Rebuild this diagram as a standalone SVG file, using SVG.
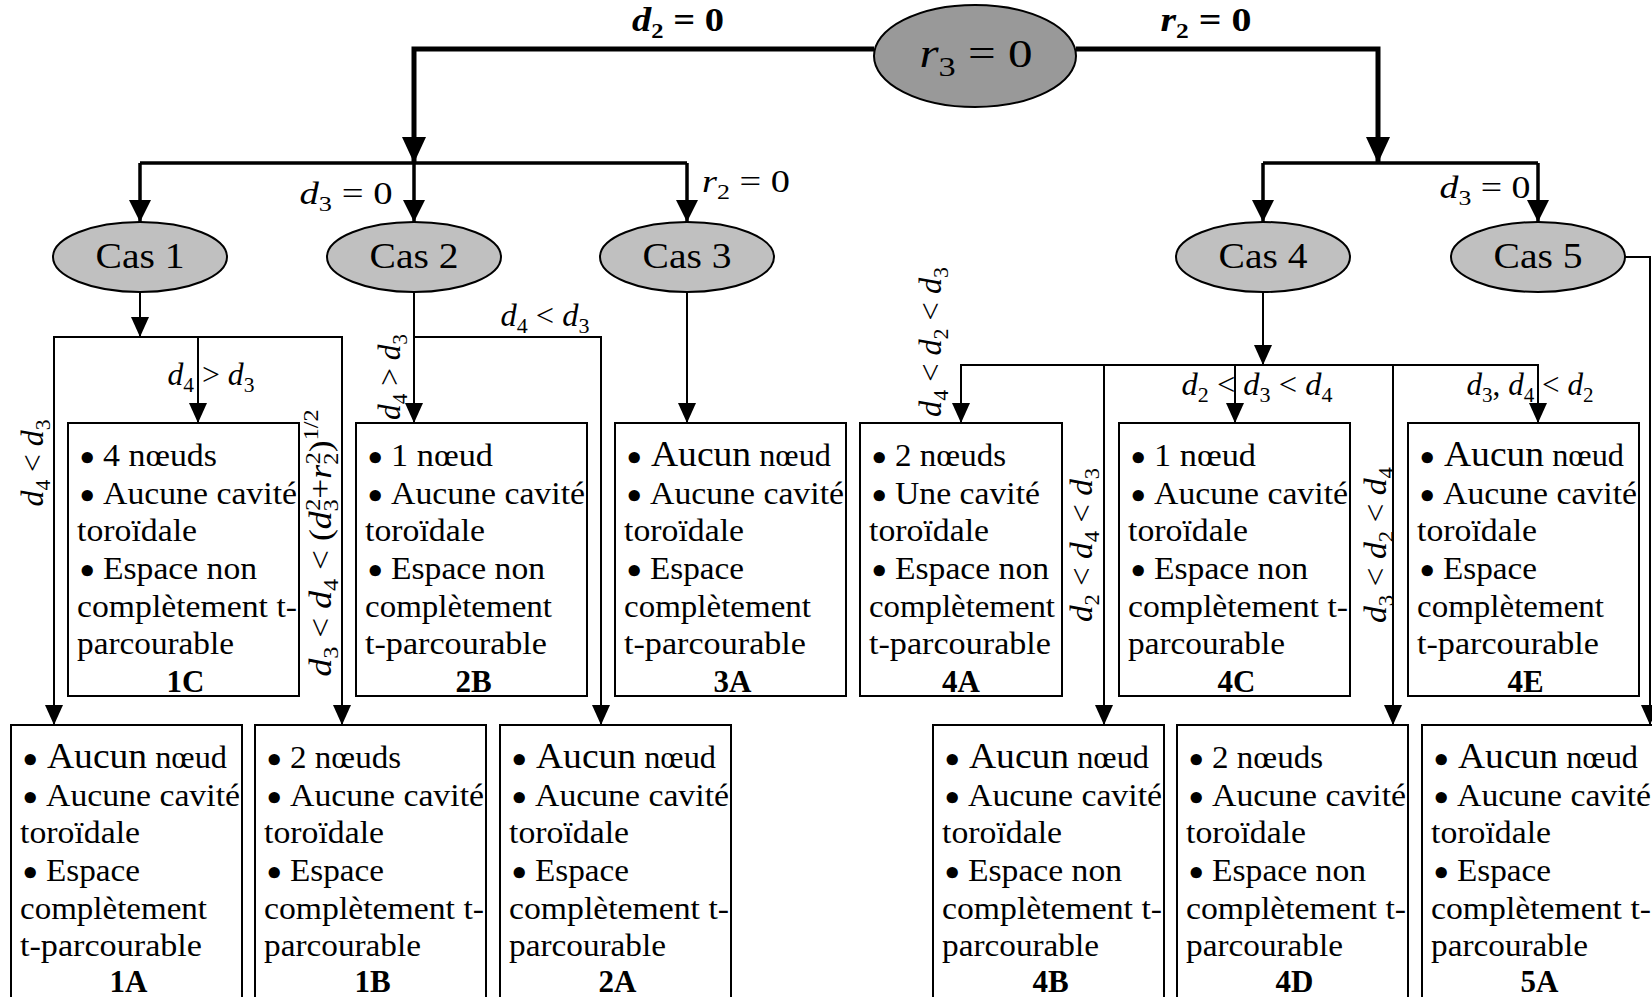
<svg xmlns="http://www.w3.org/2000/svg" width="1652" height="997" viewBox="0 0 1652 997">
<style>
text{font-family:"Liberation Serif","Times New Roman",serif;fill:#000}
.t{font-size:31px}
.au{font-size:36px}
text.bu{font-family:"DejaVu Sans",sans-serif;font-size:32px;font-weight:bold}
.lb{font-size:31px;font-weight:bold;text-anchor:middle}
.m{font-size:31px;text-anchor:middle}
.mb{font-size:33px;font-weight:bold;text-anchor:middle}
.i{font-style:italic}
.s{font-size:21px}
.cas{font-size:36px;text-anchor:middle}
.box{fill:#fff;stroke:#000;stroke-width:2}
.e1{fill:#999;stroke:#000;stroke-width:2}
.e2{fill:#c0c0c0;stroke:#000;stroke-width:2}
.c0{fill:none;stroke:#000;stroke-width:5}
.c1{fill:none;stroke:#000;stroke-width:3.5}
.c2{fill:none;stroke:#000;stroke-width:2}
</style>
<defs>
<marker id="a1" markerUnits="userSpaceOnUse" markerWidth="26" markerHeight="24" refX="26" refY="12" orient="auto" viewBox="0 0 26 24"><path d="M0,0 L26,12 L0,24 z" fill="#000"/></marker>
<marker id="a2" markerUnits="userSpaceOnUse" markerWidth="22" markerHeight="22" refX="22" refY="11" orient="auto" viewBox="0 0 22 22"><path d="M0,0 L22,11 L0,22 z" fill="#000"/></marker>
<marker id="a3" markerUnits="userSpaceOnUse" markerWidth="20" markerHeight="18" refX="20" refY="9" orient="auto" viewBox="0 0 20 18"><path d="M0,0 L20,9 L0,18 z" fill="#000"/></marker>
</defs>
<rect width="1652" height="997" fill="#fff"/>

<g id="connectors">
<path class="c0" d="M874 49 H414 V163" marker-end="url(#a1)"/>
<path class="c0" d="M1076 49 H1378 V163" marker-end="url(#a1)"/>
<path class="c1" d="M140 163 H687"/>
<path class="c1" d="M140 163 V222" marker-end="url(#a2)"/>
<path class="c1" d="M414 160 V222" marker-end="url(#a2)"/>
<path class="c1" d="M687 163 V222" marker-end="url(#a2)"/>
<path class="c1" d="M1263 163 H1538"/>
<path class="c1" d="M1263 163 V222" marker-end="url(#a2)"/>
<path class="c1" d="M1538 163 V222" marker-end="url(#a2)"/>
<path class="c2" d="M140 292 V337" marker-end="url(#a3)"/>
<path class="c2" d="M198 337 H54 V725" marker-end="url(#a3)"/>
<path class="c2" d="M198 337 H342 V725" marker-end="url(#a3)"/>
<path class="c2" d="M198 337 V423" marker-end="url(#a3)"/>
<path class="c2" d="M414 292 V423" marker-end="url(#a3)"/>
<path class="c2" d="M414 337 H601 V725" marker-end="url(#a3)"/>
<path class="c2" d="M687 292 V423" marker-end="url(#a3)"/>
<path class="c2" d="M1263 292 V365" marker-end="url(#a3)"/>
<path class="c2" d="M1263 365 H961 V423" marker-end="url(#a3)"/>
<path class="c2" d="M1104 365 V725" marker-end="url(#a3)"/>
<path class="c2" d="M1235 365 V423" marker-end="url(#a3)"/>
<path class="c2" d="M1263 365 H1538 V423" marker-end="url(#a3)"/>
<path class="c2" d="M1393 365 V725" marker-end="url(#a3)"/>
<path class="c2" d="M1625 257 H1650 V725" marker-end="url(#a3)"/>
</g>

<g id="labels">
<text class="mb" x="678" y="31" textLength="92" lengthAdjust="spacingAndGlyphs"><tspan class="i">d</tspan><tspan class="s" dy="7">2</tspan><tspan dy="-7"> = 0</tspan></text>
<text class="mb" x="1206" y="31" textLength="91" lengthAdjust="spacingAndGlyphs"><tspan class="i">r</tspan><tspan class="s" dy="7">2</tspan><tspan dy="-7"> = 0</tspan></text>
<text class="m" x="346" y="204" textLength="93" lengthAdjust="spacingAndGlyphs"><tspan class="i">d</tspan><tspan class="s" dy="7">3</tspan><tspan dy="-7"> = 0</tspan></text>
<text class="m" x="746" y="192" textLength="88" lengthAdjust="spacingAndGlyphs"><tspan class="i">r</tspan><tspan class="s" dy="7">2</tspan><tspan dy="-7"> = 0</tspan></text>
<text class="m" x="1485" y="198" textLength="91" lengthAdjust="spacingAndGlyphs"><tspan class="i">d</tspan><tspan class="s" dy="7">3</tspan><tspan dy="-7"> = 0</tspan></text>
<text class="m" x="211" y="385" textLength="87" lengthAdjust="spacingAndGlyphs"><tspan class="i">d</tspan><tspan class="s" dy="7">4</tspan><tspan dy="-7"> &gt; </tspan><tspan class="i">d</tspan><tspan class="s" dy="7">3</tspan></text>
<text class="m" x="545" y="326" textLength="89" lengthAdjust="spacingAndGlyphs"><tspan class="i">d</tspan><tspan class="s" dy="7">4</tspan><tspan dy="-7"> &lt; </tspan><tspan class="i">d</tspan><tspan class="s" dy="7">3</tspan></text>
<text class="m" x="1257" y="395" textLength="151" lengthAdjust="spacingAndGlyphs"><tspan class="i">d</tspan><tspan class="s" dy="7">2</tspan><tspan dy="-7"> &lt; </tspan><tspan class="i">d</tspan><tspan class="s" dy="7">3</tspan><tspan dy="-7"> &lt; </tspan><tspan class="i">d</tspan><tspan class="s" dy="7">4</tspan></text>
<text class="m" x="1530" y="395" textLength="127" lengthAdjust="spacingAndGlyphs"><tspan class="i">d</tspan><tspan class="s" dy="7">3</tspan><tspan dy="-7">, </tspan><tspan class="i">d</tspan><tspan class="s" dy="7">4</tspan><tspan dy="-7"> &lt; </tspan><tspan class="i">d</tspan><tspan class="s" dy="7">2</tspan></text>
<text class="m" transform="translate(43,463) rotate(-90)" textLength="87" lengthAdjust="spacingAndGlyphs"><tspan class="i">d</tspan><tspan class="s" dy="7">4</tspan><tspan dy="-7"> &lt; </tspan><tspan class="i">d</tspan><tspan class="s" dy="7">3</tspan></text>
<text class="m" transform="translate(331,543) rotate(-90)" textLength="267" lengthAdjust="spacingAndGlyphs"><tspan class="i">d</tspan><tspan class="s" dy="7">3</tspan><tspan dy="-7"> &lt; </tspan><tspan class="i">d</tspan><tspan class="s" dy="7">4</tspan><tspan dy="-7"> &lt; (</tspan><tspan class="i">d</tspan><tspan class="s" dy="7">3</tspan><tspan class="s" dx="-10" dy="-18">2</tspan><tspan dy="11">+</tspan><tspan class="i">r</tspan><tspan class="s" dy="7">2</tspan><tspan class="s" dx="-10" dy="-18">2</tspan><tspan dy="11">)</tspan><tspan class="s" dy="-13">1/2</tspan></text>
<text class="m" transform="translate(400,377) rotate(-90)" textLength="86" lengthAdjust="spacingAndGlyphs"><tspan class="i">d</tspan><tspan class="s" dy="7">4</tspan><tspan dy="-7"> &gt; </tspan><tspan class="i">d</tspan><tspan class="s" dy="7">3</tspan></text>
<text class="m" transform="translate(941,342) rotate(-90)" textLength="150" lengthAdjust="spacingAndGlyphs"><tspan class="i">d</tspan><tspan class="s" dy="7">4</tspan><tspan dy="-7"> &lt; </tspan><tspan class="i">d</tspan><tspan class="s" dy="7">2</tspan><tspan dy="-7"> &lt; </tspan><tspan class="i">d</tspan><tspan class="s" dy="7">3</tspan></text>
<text class="m" transform="translate(1092,545) rotate(-90)" textLength="154" lengthAdjust="spacingAndGlyphs"><tspan class="i">d</tspan><tspan class="s" dy="7">2</tspan><tspan dy="-7"> &lt; </tspan><tspan class="i">d</tspan><tspan class="s" dy="7">4</tspan><tspan dy="-7"> &lt; </tspan><tspan class="i">d</tspan><tspan class="s" dy="7">3</tspan></text>
<text class="m" transform="translate(1386,545) rotate(-90)" textLength="156" lengthAdjust="spacingAndGlyphs"><tspan class="i">d</tspan><tspan class="s" dy="7">3</tspan><tspan dy="-7"> &lt; </tspan><tspan class="i">d</tspan><tspan class="s" dy="7">2</tspan><tspan dy="-7"> &lt; </tspan><tspan class="i">d</tspan><tspan class="s" dy="7">4</tspan></text>
</g>

<g id="root">
<ellipse class="e1" cx="975" cy="56" rx="101" ry="51"/>
<text class="m" x="976" y="67" style="font-size:40px" textLength="113" lengthAdjust="spacingAndGlyphs"><tspan class="i">r</tspan><tspan style="font-size:28px" dy="9">3</tspan><tspan dy="-9"> = 0</tspan></text>
</g>
<g id="cas1"><ellipse class="e2" cx="140" cy="257" rx="87" ry="35"/><text class="cas" x="140" y="268" textLength="89" lengthAdjust="spacingAndGlyphs">Cas 1</text></g>
<g id="cas2"><ellipse class="e2" cx="414" cy="257" rx="87" ry="35"/><text class="cas" x="414" y="268" textLength="89" lengthAdjust="spacingAndGlyphs">Cas 2</text></g>
<g id="cas3"><ellipse class="e2" cx="687" cy="257" rx="87" ry="35"/><text class="cas" x="687" y="268" textLength="89" lengthAdjust="spacingAndGlyphs">Cas 3</text></g>
<g id="cas4"><ellipse class="e2" cx="1263" cy="257" rx="87" ry="35"/><text class="cas" x="1263" y="268" textLength="89" lengthAdjust="spacingAndGlyphs">Cas 4</text></g>
<g id="cas5"><ellipse class="e2" cx="1538" cy="257" rx="87" ry="35"/><text class="cas" x="1538" y="268" textLength="89" lengthAdjust="spacingAndGlyphs">Cas 5</text></g>

<g id="box1C">
<rect class="box" x="68" y="423" width="231" height="273"/>
<text class="bu" x="77" y="470">•</text><text class="t" x="103" y="466" textLength="114" lengthAdjust="spacingAndGlyphs">4 nœuds</text>
<text class="bu" x="77" y="507.5">•</text><text class="t" x="103" y="503.5" textLength="194" lengthAdjust="spacingAndGlyphs">Aucune cavité</text>
<text class="t" x="77" y="541" textLength="120" lengthAdjust="spacingAndGlyphs">toroïdale</text>
<text class="bu" x="77" y="583">•</text><text class="t" x="103" y="579" textLength="154" lengthAdjust="spacingAndGlyphs">Espace non</text>
<text class="t" x="77" y="616.5" textLength="220" lengthAdjust="spacingAndGlyphs">complètement t-</text>
<text class="t" x="77" y="654" textLength="157" lengthAdjust="spacingAndGlyphs">parcourable</text>
<text class="lb" x="185.5" y="692">1C</text>
</g>
<g id="box2B">
<rect class="box" x="356" y="423" width="231" height="273"/>
<text class="bu" x="365" y="470">•</text><text class="t" x="391" y="466" textLength="102" lengthAdjust="spacingAndGlyphs">1 nœud</text>
<text class="bu" x="365" y="507.5">•</text><text class="t" x="391" y="503.5" textLength="194" lengthAdjust="spacingAndGlyphs">Aucune cavité</text>
<text class="t" x="365" y="541" textLength="120" lengthAdjust="spacingAndGlyphs">toroïdale</text>
<text class="bu" x="365" y="583">•</text><text class="t" x="391" y="579" textLength="154" lengthAdjust="spacingAndGlyphs">Espace non</text>
<text class="t" x="365" y="616.5" textLength="187" lengthAdjust="spacingAndGlyphs">complètement</text>
<text class="t" x="365" y="654" textLength="182" lengthAdjust="spacingAndGlyphs">t-parcourable</text>
<text class="lb" x="473.5" y="692">2B</text>
</g>
<g id="box3A">
<rect class="box" x="615" y="423" width="231" height="273"/>
<text class="bu" x="624" y="470">•</text><text class="t" x="651" y="466" textLength="180" lengthAdjust="spacingAndGlyphs"><tspan class="au">Aucun</tspan> nœud</text>
<text class="bu" x="624" y="507.5">•</text><text class="t" x="650" y="503.5" textLength="194" lengthAdjust="spacingAndGlyphs">Aucune cavité</text>
<text class="t" x="624" y="541" textLength="120" lengthAdjust="spacingAndGlyphs">toroïdale</text>
<text class="bu" x="624" y="583">•</text><text class="t" x="650" y="579" textLength="94" lengthAdjust="spacingAndGlyphs">Espace</text>
<text class="t" x="624" y="616.5" textLength="187" lengthAdjust="spacingAndGlyphs">complètement</text>
<text class="t" x="624" y="654" textLength="182" lengthAdjust="spacingAndGlyphs">t-parcourable</text>
<text class="lb" x="732.5" y="692">3A</text>
</g>
<g id="box4A">
<rect class="box" x="860" y="423" width="202" height="273"/>
<text class="bu" x="869" y="470">•</text><text class="t" x="895" y="466" textLength="111" lengthAdjust="spacingAndGlyphs">2 nœuds</text>
<text class="bu" x="869" y="507.5">•</text><text class="t" x="895" y="503.5" textLength="145" lengthAdjust="spacingAndGlyphs">Une cavité</text>
<text class="t" x="869" y="541" textLength="120" lengthAdjust="spacingAndGlyphs">toroïdale</text>
<text class="bu" x="869" y="583">•</text><text class="t" x="895" y="579" textLength="154" lengthAdjust="spacingAndGlyphs">Espace non</text>
<text class="t" x="869" y="616.5" textLength="186" lengthAdjust="spacingAndGlyphs">complètement</text>
<text class="t" x="869" y="654" textLength="182" lengthAdjust="spacingAndGlyphs">t-parcourable</text>
<text class="lb" x="961" y="692">4A</text>
</g>
<g id="box4C">
<rect class="box" x="1119" y="423" width="231" height="273"/>
<text class="bu" x="1128" y="470">•</text><text class="t" x="1154" y="466" textLength="102" lengthAdjust="spacingAndGlyphs">1 nœud</text>
<text class="bu" x="1128" y="507.5">•</text><text class="t" x="1154" y="503.5" textLength="194" lengthAdjust="spacingAndGlyphs">Aucune cavité</text>
<text class="t" x="1128" y="541" textLength="120" lengthAdjust="spacingAndGlyphs">toroïdale</text>
<text class="bu" x="1128" y="583">•</text><text class="t" x="1154" y="579" textLength="154" lengthAdjust="spacingAndGlyphs">Espace non</text>
<text class="t" x="1128" y="616.5" textLength="220" lengthAdjust="spacingAndGlyphs">complètement t-</text>
<text class="t" x="1128" y="654" textLength="157" lengthAdjust="spacingAndGlyphs">parcourable</text>
<text class="lb" x="1236.5" y="692">4C</text>
</g>
<g id="box4E">
<rect class="box" x="1408" y="423" width="231" height="273"/>
<text class="bu" x="1417" y="470">•</text><text class="t" x="1444" y="466" textLength="180" lengthAdjust="spacingAndGlyphs"><tspan class="au">Aucun</tspan> nœud</text>
<text class="bu" x="1417" y="507.5">•</text><text class="t" x="1443" y="503.5" textLength="194" lengthAdjust="spacingAndGlyphs">Aucune cavité</text>
<text class="t" x="1417" y="541" textLength="120" lengthAdjust="spacingAndGlyphs">toroïdale</text>
<text class="bu" x="1417" y="583">•</text><text class="t" x="1443" y="579" textLength="94" lengthAdjust="spacingAndGlyphs">Espace</text>
<text class="t" x="1417" y="616.5" textLength="187" lengthAdjust="spacingAndGlyphs">complètement</text>
<text class="t" x="1417" y="654" textLength="182" lengthAdjust="spacingAndGlyphs">t-parcourable</text>
<text class="lb" x="1525.5" y="692">4E</text>
</g>

<g id="box1A">
<rect class="box" x="11" y="725" width="231" height="290"/>
<text class="bu" x="20" y="772">•</text><text class="t" x="47" y="768" textLength="180" lengthAdjust="spacingAndGlyphs"><tspan class="au">Aucun</tspan> nœud</text>
<text class="bu" x="20" y="809.5">•</text><text class="t" x="46" y="805.5" textLength="194" lengthAdjust="spacingAndGlyphs">Aucune cavité</text>
<text class="t" x="20" y="843" textLength="120" lengthAdjust="spacingAndGlyphs">toroïdale</text>
<text class="bu" x="20" y="885">•</text><text class="t" x="46" y="881" textLength="94" lengthAdjust="spacingAndGlyphs">Espace</text>
<text class="t" x="20" y="918.5" textLength="187" lengthAdjust="spacingAndGlyphs">complètement</text>
<text class="t" x="20" y="956" textLength="182" lengthAdjust="spacingAndGlyphs">t-parcourable</text>
<text class="lb" x="128.5" y="992">1A</text>
</g>
<g id="box1B">
<rect class="box" x="255" y="725" width="231" height="290"/>
<text class="bu" x="264" y="772">•</text><text class="t" x="290" y="768" textLength="111" lengthAdjust="spacingAndGlyphs">2 nœuds</text>
<text class="bu" x="264" y="809.5">•</text><text class="t" x="290" y="805.5" textLength="194" lengthAdjust="spacingAndGlyphs">Aucune cavité</text>
<text class="t" x="264" y="843" textLength="120" lengthAdjust="spacingAndGlyphs">toroïdale</text>
<text class="bu" x="264" y="885">•</text><text class="t" x="290" y="881" textLength="94" lengthAdjust="spacingAndGlyphs">Espace</text>
<text class="t" x="264" y="918.5" textLength="220" lengthAdjust="spacingAndGlyphs">complètement t-</text>
<text class="t" x="264" y="956" textLength="157" lengthAdjust="spacingAndGlyphs">parcourable</text>
<text class="lb" x="372.5" y="992">1B</text>
</g>
<g id="box2A">
<rect class="box" x="500" y="725" width="231" height="290"/>
<text class="bu" x="509" y="772">•</text><text class="t" x="536" y="768" textLength="180" lengthAdjust="spacingAndGlyphs"><tspan class="au">Aucun</tspan> nœud</text>
<text class="bu" x="509" y="809.5">•</text><text class="t" x="535" y="805.5" textLength="194" lengthAdjust="spacingAndGlyphs">Aucune cavité</text>
<text class="t" x="509" y="843" textLength="120" lengthAdjust="spacingAndGlyphs">toroïdale</text>
<text class="bu" x="509" y="885">•</text><text class="t" x="535" y="881" textLength="94" lengthAdjust="spacingAndGlyphs">Espace</text>
<text class="t" x="509" y="918.5" textLength="220" lengthAdjust="spacingAndGlyphs">complètement t-</text>
<text class="t" x="509" y="956" textLength="157" lengthAdjust="spacingAndGlyphs">parcourable</text>
<text class="lb" x="617.5" y="992">2A</text>
</g>
<g id="box4B">
<rect class="box" x="933" y="725" width="231" height="290"/>
<text class="bu" x="942" y="772">•</text><text class="t" x="969" y="768" textLength="180" lengthAdjust="spacingAndGlyphs"><tspan class="au">Aucun</tspan> nœud</text>
<text class="bu" x="942" y="809.5">•</text><text class="t" x="968" y="805.5" textLength="194" lengthAdjust="spacingAndGlyphs">Aucune cavité</text>
<text class="t" x="942" y="843" textLength="120" lengthAdjust="spacingAndGlyphs">toroïdale</text>
<text class="bu" x="942" y="885">•</text><text class="t" x="968" y="881" textLength="154" lengthAdjust="spacingAndGlyphs">Espace non</text>
<text class="t" x="942" y="918.5" textLength="220" lengthAdjust="spacingAndGlyphs">complètement t-</text>
<text class="t" x="942" y="956" textLength="157" lengthAdjust="spacingAndGlyphs">parcourable</text>
<text class="lb" x="1050.5" y="992">4B</text>
</g>
<g id="box4D">
<rect class="box" x="1177" y="725" width="231" height="290"/>
<text class="bu" x="1186" y="772">•</text><text class="t" x="1212" y="768" textLength="111" lengthAdjust="spacingAndGlyphs">2 nœuds</text>
<text class="bu" x="1186" y="809.5">•</text><text class="t" x="1212" y="805.5" textLength="194" lengthAdjust="spacingAndGlyphs">Aucune cavité</text>
<text class="t" x="1186" y="843" textLength="120" lengthAdjust="spacingAndGlyphs">toroïdale</text>
<text class="bu" x="1186" y="885">•</text><text class="t" x="1212" y="881" textLength="154" lengthAdjust="spacingAndGlyphs">Espace non</text>
<text class="t" x="1186" y="918.5" textLength="220" lengthAdjust="spacingAndGlyphs">complètement t-</text>
<text class="t" x="1186" y="956" textLength="157" lengthAdjust="spacingAndGlyphs">parcourable</text>
<text class="lb" x="1294.5" y="992">4D</text>
</g>
<g id="box5A">
<rect class="box" x="1422" y="725" width="240" height="290"/>
<text class="bu" x="1431" y="772">•</text><text class="t" x="1458" y="768" textLength="180" lengthAdjust="spacingAndGlyphs"><tspan class="au">Aucun</tspan> nœud</text>
<text class="bu" x="1431" y="809.5">•</text><text class="t" x="1457" y="805.5" textLength="194" lengthAdjust="spacingAndGlyphs">Aucune cavité</text>
<text class="t" x="1431" y="843" textLength="120" lengthAdjust="spacingAndGlyphs">toroïdale</text>
<text class="bu" x="1431" y="885">•</text><text class="t" x="1457" y="881" textLength="94" lengthAdjust="spacingAndGlyphs">Espace</text>
<text class="t" x="1431" y="918.5" textLength="220" lengthAdjust="spacingAndGlyphs">complètement t-</text>
<text class="t" x="1431" y="956" textLength="157" lengthAdjust="spacingAndGlyphs">parcourable</text>
<text class="lb" x="1539.5" y="992">5A</text>
</g>
</svg>
